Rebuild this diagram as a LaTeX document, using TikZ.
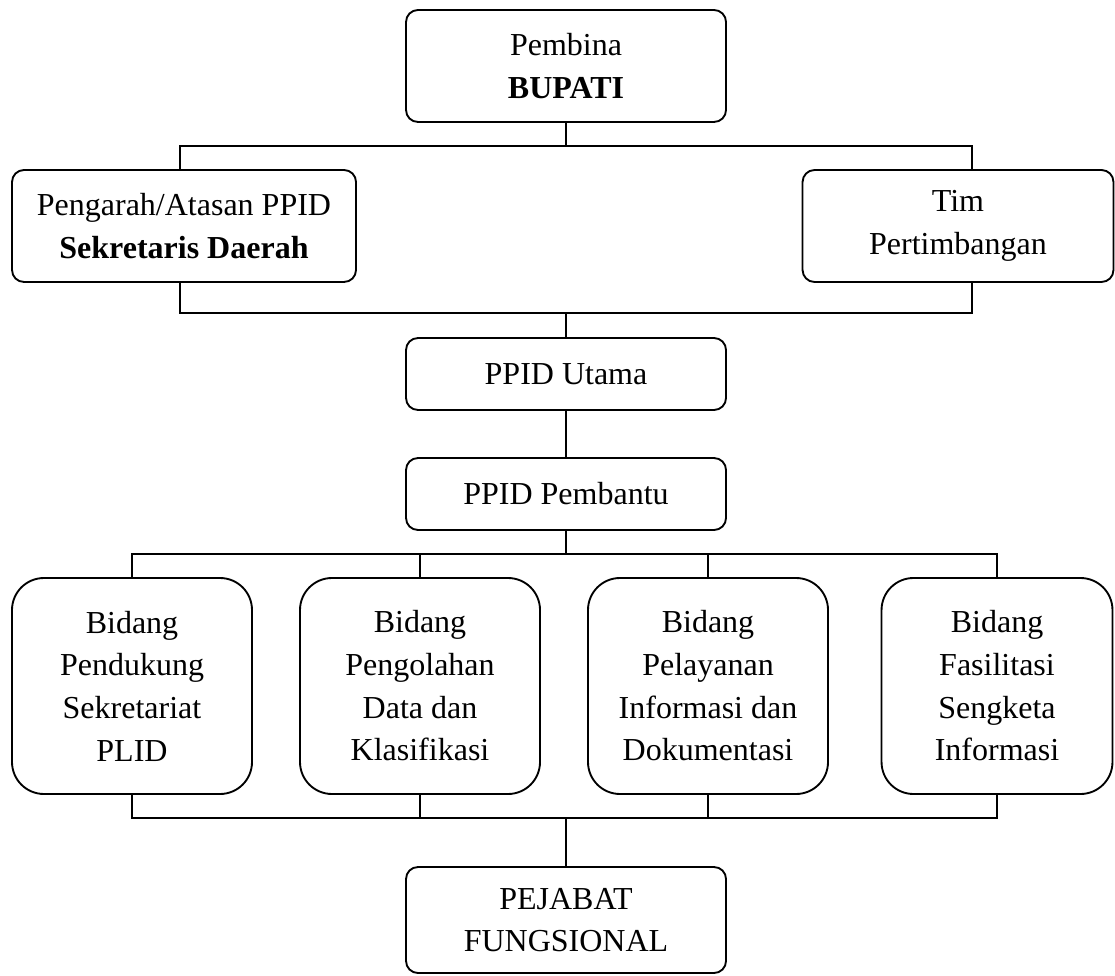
\documentclass[tikz,border=0pt]{standalone}
\usepackage{fontspec}
\setmainfont{Liberation Serif}
\tikzset{
    unit/.style={draw, line width=0.7pt, rounded corners=4.5pt, align=center,
        inner sep=2pt, font=\fontsize{12}{16}\selectfont},
    bidang/.style={unit, rounded corners=12pt, minimum width=90pt, minimum height=81pt},
    link/.style={line width=0.7pt}
}

\begin{document}
\begin{tikzpicture}[x=0.375pt, y=-0.375pt]
\useasboundingbox (0,0) rectangle (1115,976);
% top level
\node[unit, minimum width=120pt, minimum height=42pt] (bupati) at (566,66) {Pembina\\ \textbf{BUPATI}};
\node[unit, minimum width=129pt, minimum height=42pt] (pengarah) at (184,226) {Pengarah/Atasan PPID\\ \textbf{Sekretaris Daerah}};
\node[unit, minimum width=116.6pt, minimum height=42pt] (tim) at (958,226) {Tim\\ Pertimbangan};
\node[unit, minimum width=120pt, minimum height=27pt] (utama) at (566,374) {PPID Utama};
\node[unit, minimum width=120pt, minimum height=27pt] (pembantu) at (566,494) {PPID Pembantu};
% bidang
\node[bidang] (pendukung) at (132,686) {Bidang\\ Pendukung\\ Sekretariat\\ PLID};
\node[bidang] (pengolahan) at (420,686) {Bidang\\ Pengolahan\\ Data dan\\ Klasifikasi};
\node[bidang] (pelayanan) at (708,686) {Bidang\\ Pelayanan\\ Informasi dan\\ Dokumentasi};
\node[bidang, minimum width=86.6pt] (fasilitasi) at (997,686) {Bidang\\ Fasilitasi\\ Sengketa\\ Informasi};
\node[unit, minimum width=120pt, minimum height=39.75pt] (fungsional) at (566,920) {PEJABAT\\ FUNGSIONAL};
% bus lines
\coordinate (busAL) at (180,146);
\coordinate (busAR) at (972,146);
\coordinate (busBL) at (180,313);
\coordinate (busBR) at (972,313);
\coordinate (busC) at (566,554);
\coordinate (busD) at (566,818);

\draw[link] (bupati.south) -- (bupati.south |- busAL);
\draw[link] (pengarah.north -| busAL) -- (busAL) -- (busAR) -- (tim.north -| busAR);
\draw[link] (pengarah.south -| busBL) -- (busBL) -- (busBR) -- (tim.south -| busBR);
\draw[link] (utama.north |- busBL) -- (utama.north);
\draw[link] (utama.south) -- (pembantu.north);
\draw[link] (pembantu.south) -- (busC);
\draw[link] (pendukung.north) -- (pendukung.north |- busC) -- (fasilitasi.north |- busC) -- (fasilitasi.north);
\draw[link] (pengolahan.north) -- (pengolahan.north |- busC);
\draw[link] (pelayanan.north) -- (pelayanan.north |- busC);
\draw[link] (pendukung.south) -- (pendukung.south |- busD) -- (fasilitasi.south |- busD) -- (fasilitasi.south);
\draw[link] (pengolahan.south) -- (pengolahan.south |- busD);
\draw[link] (pelayanan.south) -- (pelayanan.south |- busD);
\draw[link] (busD) -- (fungsional.north);
\end{tikzpicture}
\end{document}
